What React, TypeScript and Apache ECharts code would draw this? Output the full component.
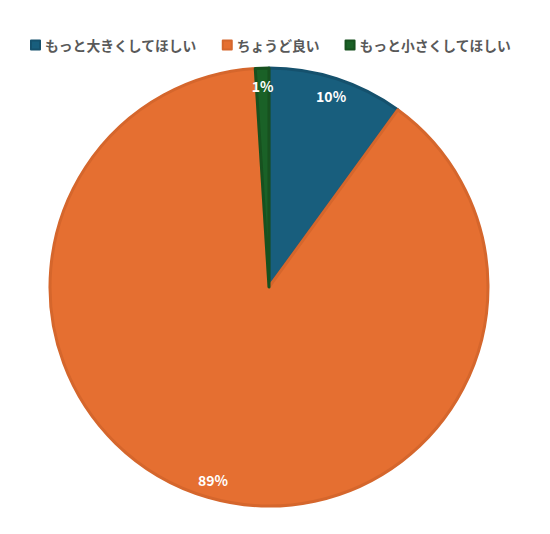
import React, { useEffect, useRef } from "react";
import * as echarts from "echarts";

const categories = ["もっと大きくしてほしい", "ちょうど良い", "もっと小さくしてほしい"];
const values = [10, 89, 1];
const colors = ["#185e7d", "#e56f31", "#1a6127"];
const borderColors = ["#15516d", "#d5662c", "#17511f"];

export default function App() {
  const ref = useRef<HTMLDivElement>(null);
  useEffect(() => {
    const chart = echarts.init(ref.current!, null, { renderer: "svg" });
    const font = "'Noto Sans CJK JP', 'Noto Sans', sans-serif";
    chart.setOption({
      animation: false,
      textStyle: { fontFamily: font },
      legend: {
        data: categories,
        left: 25,
        top: 33,
        icon: "rect",
        itemWidth: 9,
        itemHeight: 9,
        itemGap: 25,
        textStyle: { fontSize: 13.8, fontWeight: "bold", color: "#595959", fontFamily: font },
      },
      series: [
        {
          type: "pie",
          center: [269, 287],
          radius: [0, 219],
          startAngle: 90,
          clockwise: true,
          label: { show: false },
          labelLine: { show: false },
          emphasis: { disabled: true },
          data: categories.map((name, i) => ({
            name,
            value: values[i],
            itemStyle: { color: colors[i], borderColor: borderColors[i], borderWidth: 3 },
          })),
        },
        {
          type: "pie",
          center: [269, 287],
          radius: [176, 220],
          startAngle: 90,
          clockwise: true,
          silent: true,
          legendHoverLink: false,
          emphasis: { disabled: true },
          itemStyle: { color: "rgba(0,0,0,0)", borderWidth: 0 },
          label: {
            show: true,
            position: "inside",
            formatter: (p: any) => p.value + "%",
            color: "#ffffff",
            fontSize: 14,
            fontWeight: "bold",
            fontFamily: font,
          },
          labelLine: { show: false },
          data: categories.map((name, i) => ({ name, value: values[i] })),
        },
      ],
    });
    return () => chart.dispose();
  }, []);
  return (
    <div
      ref={ref}
      style={{ position: "absolute", left: 0, top: 0, width: 550, height: 534, background: "#ffffff" }}
    />
  );
}
